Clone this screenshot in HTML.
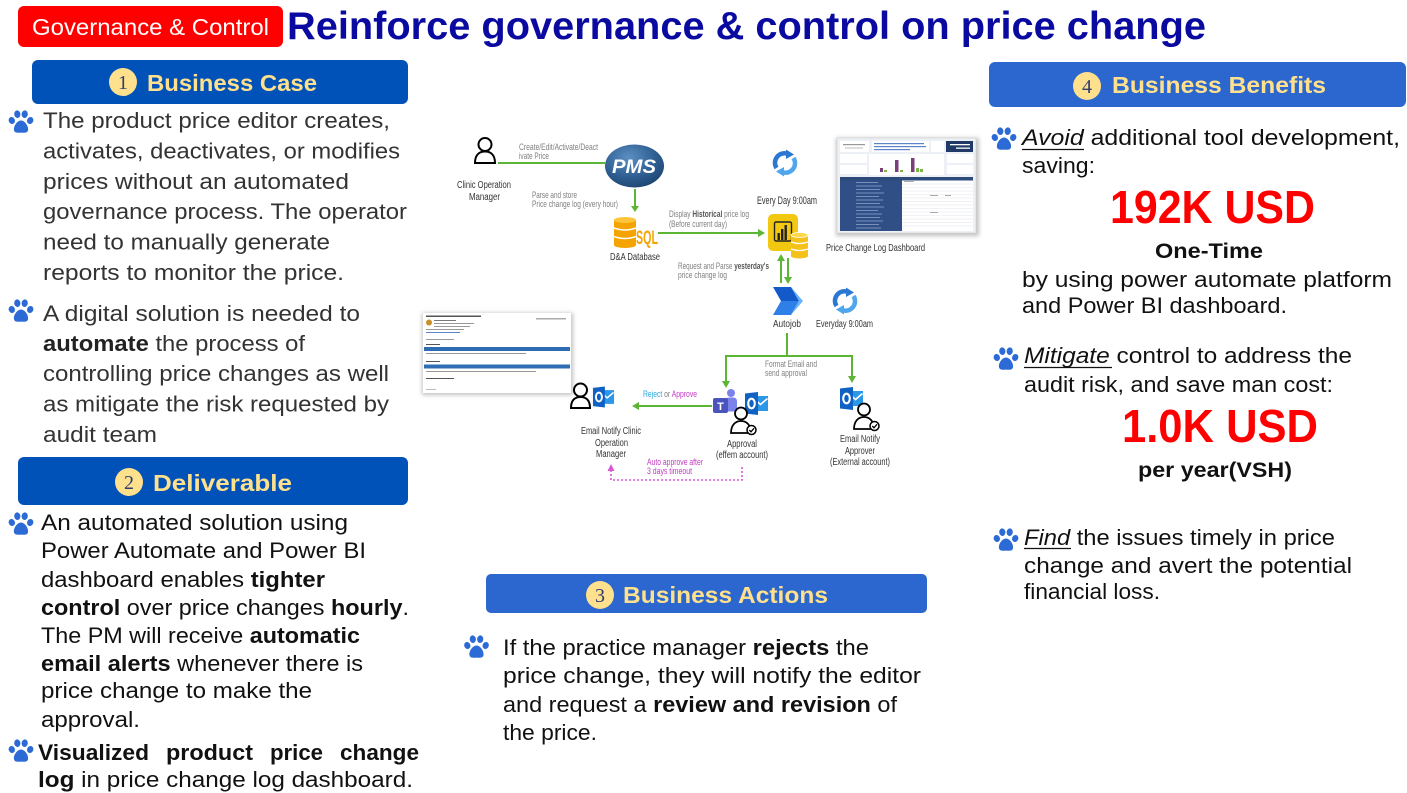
<!DOCTYPE html>
<html><head><meta charset="utf-8"><style>
html,body{margin:0;padding:0;background:#fff;}
svg{display:block;font-family:"Liberation Sans",Arial,sans-serif;}
</style></head><body>
<svg width="1407" height="793" viewBox="0 0 1407 793" xmlns="http://www.w3.org/2000/svg">
<defs>
<symbol id="paw" viewBox="0 0 26 24">
<ellipse cx="3.8" cy="10.5" rx="3.1" ry="3.6" transform="rotate(-20 3.8 10.5)"/>
<ellipse cx="9.3" cy="4.2" rx="3.1" ry="3.8" transform="rotate(-8 9.3 4.2)"/>
<ellipse cx="16.7" cy="4.2" rx="3.1" ry="3.8" transform="rotate(8 16.7 4.2)"/>
<ellipse cx="22.2" cy="10.5" rx="3.1" ry="3.6" transform="rotate(20 22.2 10.5)"/>
<path d="M13 10.5 C9 10.5 5.2 16.5 6 20.3 C6.8 23.6 10.2 22.6 13 22.6 C15.8 22.6 19.2 23.6 20 20.3 C20.8 16.5 17 10.5 13 10.5Z"/>
</symbol>
<symbol id="ol" viewBox="0 0 23 24">
<rect x="9" y="4.5" width="14" height="15" fill="#2B97E6"/>
<path d="M10 8 L15.5 13 L22.5 7" stroke="#fff" stroke-width="1.6" fill="none"/>
<path d="M0 2 L13 0.5 L13 23.5 L0 22 Z" fill="#0F62C4"/>
<ellipse cx="6.5" cy="12" rx="3.3" ry="4.8" fill="none" stroke="#fff" stroke-width="2.1"/>
</symbol>
<symbol id="refresh" viewBox="-13 -13 26 26">
<path d="M-8.5 5 A9.5 9.5 0 0 1 3 -9" fill="none" stroke="#2B78D4" stroke-width="4.5"/>
<polygon points="1,-13.5 9,-8.5 1,-4" fill="#2B78D4"/>
<path d="M8.5 -5 A9.5 9.5 0 0 1 -3 9" fill="none" stroke="#4FA6EC" stroke-width="4.5"/>
<polygon points="-1,13.5 -9,8.5 -1,4" fill="#4FA6EC"/>
</symbol>
<radialGradient id="pmsg" cx="40%" cy="30%" r="75%">
<stop offset="0" stop-color="#5B8FC2"/><stop offset="0.6" stop-color="#2F5F93"/><stop offset="1" stop-color="#1D4470"/>
</radialGradient>
<filter id="sh" x="-10%" y="-10%" width="120%" height="130%"><feGaussianBlur stdDeviation="2"/></filter>
</defs>

<!-- HEADER -->
<rect x="18" y="6" width="265" height="41" rx="6" fill="#FF0000"/>
<text x="32" y="35" font-size="23" fill="#fff" textLength="237" lengthAdjust="spacingAndGlyphs">Governance &amp; Control</text>
<text x="287" y="39" font-size="39" font-weight="bold" fill="#0A0AA0" textLength="919" lengthAdjust="spacingAndGlyphs">Reinforce governance &amp; control on price change</text>

<!-- SECTION 1 -->
<rect x="32" y="60" width="376" height="44" rx="6" fill="#0052B9"/>
<circle cx="123" cy="82" r="14" fill="#FFE08C"/>
<text x="123" y="89" font-size="20" font-family="Liberation Serif, serif" fill="#2C3E70" text-anchor="middle">1</text>
<text x="147" y="91" font-size="23.5" font-weight="bold" fill="#FFE08C" textLength="170" lengthAdjust="spacingAndGlyphs">Business Case</text>

<g fill="#2C6BD6">
<use href="#paw" x="8" y="110" width="26" height="24"/>
<use href="#paw" x="8" y="299" width="26" height="24"/>
<use href="#paw" x="8" y="512" width="26" height="24"/>
<use href="#paw" x="8" y="739" width="26" height="24"/>
<use href="#paw" x="991" y="127" width="26" height="24"/>
<use href="#paw" x="993" y="347" width="26" height="24"/>
<use href="#paw" x="993" y="528" width="26" height="24"/>
<use href="#paw" x="463" y="635" width="27" height="24"/>
</g>

<g font-size="22.5" fill="#333" lengthAdjust="spacingAndGlyphs">
<text x="43" y="128" textLength="347" lengthAdjust="spacingAndGlyphs">The product price editor creates,</text>
<text x="43" y="158.5" textLength="357" lengthAdjust="spacingAndGlyphs">activates, deactivates, or modifies</text>
<text x="43" y="189" textLength="306" lengthAdjust="spacingAndGlyphs">prices without an automated</text>
<text x="43" y="219" textLength="364" lengthAdjust="spacingAndGlyphs">governance process. The operator</text>
<text x="43" y="249.5" textLength="287" lengthAdjust="spacingAndGlyphs">need to manually generate</text>
<text x="43" y="280" textLength="301" lengthAdjust="spacingAndGlyphs">reports to monitor the price.</text>
<text x="43" y="321" textLength="317" lengthAdjust="spacingAndGlyphs">A digital solution is needed to</text>
<text x="43" y="351" textLength="262" lengthAdjust="spacingAndGlyphs"><tspan font-weight="bold" fill="#222">automate</tspan> the process of</text>
<text x="43" y="381" textLength="346" lengthAdjust="spacingAndGlyphs">controlling price changes as well</text>
<text x="43" y="411.5" textLength="346" lengthAdjust="spacingAndGlyphs">as mitigate the risk requested by</text>
<text x="43" y="442" textLength="114" lengthAdjust="spacingAndGlyphs">audit team</text>
</g>

<!-- SECTION 2 -->
<rect x="18" y="457" width="390" height="48" rx="6" fill="#0052B9"/>
<circle cx="129" cy="482" r="14" fill="#FFE08C"/>
<text x="129" y="489" font-size="20" font-family="Liberation Serif, serif" fill="#2C3E70" text-anchor="middle">2</text>
<text x="153" y="491" font-size="23.5" font-weight="bold" fill="#FFE08C" textLength="139" lengthAdjust="spacingAndGlyphs">Deliverable</text>

<g font-size="22" fill="#111">
<text x="41" y="530" textLength="307" lengthAdjust="spacingAndGlyphs">An automated solution using</text>
<text x="41" y="558" textLength="325" lengthAdjust="spacingAndGlyphs">Power Automate and Power BI</text>
<text x="41" y="587" textLength="284" lengthAdjust="spacingAndGlyphs">dashboard enables <tspan font-weight="bold">tighter</tspan></text>
<text x="41" y="615" textLength="368" lengthAdjust="spacingAndGlyphs"><tspan font-weight="bold">control</tspan> over price changes <tspan font-weight="bold">hourly</tspan>.</text>
<text x="41" y="643" textLength="319" lengthAdjust="spacingAndGlyphs">The PM will receive <tspan font-weight="bold">automatic</tspan></text>
<text x="41" y="671" textLength="322" lengthAdjust="spacingAndGlyphs"><tspan font-weight="bold">email alerts</tspan> whenever there is</text>
<text x="41" y="698" textLength="271" lengthAdjust="spacingAndGlyphs">price change to make the</text>
<text x="41" y="727" textLength="99" lengthAdjust="spacingAndGlyphs">approval.</text>
<g font-weight="bold">
<text x="38" y="760" textLength="111" lengthAdjust="spacingAndGlyphs">Visualized</text>
<text x="166" y="760" textLength="87" lengthAdjust="spacingAndGlyphs">product</text>
<text x="270" y="760" textLength="53" lengthAdjust="spacingAndGlyphs">price</text>
<text x="340" y="760" textLength="79" lengthAdjust="spacingAndGlyphs">change</text>
</g>
<text x="38" y="787" textLength="375" lengthAdjust="spacingAndGlyphs"><tspan font-weight="bold">log</tspan> in  price change log dashboard.</text>
</g>

<!-- SECTION 3 -->
<rect x="486" y="574" width="441" height="39" rx="5" fill="#2B67CF"/>
<circle cx="600" cy="595" r="14" fill="#FFE08C"/>
<text x="600" y="602" font-size="20" font-family="Liberation Serif, serif" fill="#2C3E70" text-anchor="middle">3</text>
<text x="623" y="603" font-size="23.5" font-weight="bold" fill="#FFE08C" textLength="205" lengthAdjust="spacingAndGlyphs">Business Actions</text>
<g font-size="22" fill="#111">
<text x="503" y="655" textLength="366" lengthAdjust="spacingAndGlyphs">If the practice manager <tspan font-weight="bold">rejects</tspan> the</text>
<text x="503" y="683" textLength="418" lengthAdjust="spacingAndGlyphs">price change, they will notify the editor</text>
<text x="503" y="712" textLength="394" lengthAdjust="spacingAndGlyphs">and request a <tspan font-weight="bold">review and revision</tspan> of</text>
<text x="503" y="740" textLength="94" lengthAdjust="spacingAndGlyphs">the price.</text>
</g>

<!-- SECTION 4 -->
<rect x="989" y="62" width="417" height="45" rx="6" fill="#2B67CF"/>
<circle cx="1087" cy="86" r="14" fill="#FFE08C"/>
<text x="1087" y="93" font-size="20" font-family="Liberation Serif, serif" fill="#2C3E70" text-anchor="middle">4</text>
<text x="1112" y="93" font-size="23.5" font-weight="bold" fill="#FFE08C" textLength="214" lengthAdjust="spacingAndGlyphs">Business Benefits</text>

<g font-size="22" fill="#111">
<text x="1022" y="145" textLength="378" lengthAdjust="spacingAndGlyphs"><tspan font-style="italic">Avoid</tspan> additional tool development,</text>
<text x="1022" y="173" textLength="73" lengthAdjust="spacingAndGlyphs">saving:</text>
<text x="1110" y="223" font-size="46" font-weight="bold" fill="#FF0000" textLength="205" lengthAdjust="spacingAndGlyphs">192K USD</text>
<text x="1155" y="258" font-size="21" font-weight="bold" textLength="108" lengthAdjust="spacingAndGlyphs">One-Time</text>
<text x="1022" y="287" textLength="370" lengthAdjust="spacingAndGlyphs">by using power automate platform</text>
<text x="1022" y="313" textLength="265" lengthAdjust="spacingAndGlyphs">and Power BI dashboard.</text>
<text x="1024" y="363" textLength="328" lengthAdjust="spacingAndGlyphs"><tspan font-style="italic">Mitigate</tspan> control to address the</text>
<text x="1024" y="392" textLength="309" lengthAdjust="spacingAndGlyphs">audit risk, and save man cost:</text>
<text x="1122" y="442" font-size="46" font-weight="bold" fill="#FF0000" textLength="196" lengthAdjust="spacingAndGlyphs">1.0K USD</text>
<text x="1138" y="477" font-size="21" font-weight="bold" textLength="154" lengthAdjust="spacingAndGlyphs">per year(VSH)</text>
<text x="1024" y="545" textLength="311" lengthAdjust="spacingAndGlyphs"><tspan font-style="italic">Find</tspan> the issues timely in price</text>
<text x="1024" y="573" textLength="328" lengthAdjust="spacingAndGlyphs">change and avert the potential</text>
<text x="1024" y="599" textLength="136" lengthAdjust="spacingAndGlyphs">financial loss.</text>
</g>
<g stroke="#111" stroke-width="1.3">
<line x1="1022" y1="149.5" x2="1084" y2="149.5"/>
<line x1="1024" y1="367.5" x2="1112" y2="367.5"/>
<line x1="1024" y1="548.5" x2="1071" y2="548.5"/>
</g>

<!-- DIAGRAM -->
<!-- connectors -->
<g stroke="#5DB535" stroke-width="2" fill="none">
<line x1="498" y1="163" x2="605" y2="163"/>
<line x1="635" y1="189" x2="635" y2="206"/>
<line x1="658" y1="233" x2="758" y2="233"/>
<line x1="781" y1="283" x2="781" y2="261"/>
<line x1="788" y1="258" x2="788" y2="277"/>
<polyline points="787,333 787,356"/>
<polyline points="726,381 726,356 852,356 852,376"/>
<line x1="712" y1="406" x2="639" y2="406"/>
</g>
<g fill="#5DB535">
<polygon points="631,206 639,206 635,212"/>
<polygon points="758,229 758,237 765,233"/>
<polygon points="777,261 785,261 781,254"/>
<polygon points="784,277 792,277 788,284"/>
<polygon points="722,381 730,381 726,388"/>
<polygon points="848,376 856,376 852,383"/>
<polygon points="639,402 639,410 632,406"/>
</g>
<path d="M742 467 L742 480 L611 480 L611 470" fill="none" stroke="#D957D9" stroke-width="1.6" stroke-dasharray="2 2"/>
<polygon points="607.5,471 614.5,471 611,464" fill="#D957D9"/>

<!-- person clinic -->
<circle cx="485" cy="144.5" r="6.5" fill="#fff" stroke="#000" stroke-width="2"/>
<path d="M475 163 C475 155 479 151.5 485 151.5 C491 151.5 495 155 495 163 Z" fill="#fff" stroke="#000" stroke-width="2"/>

<!-- PMS -->
<ellipse cx="634.5" cy="166" rx="29.5" ry="21.5" fill="url(#pmsg)"/>
<text x="634" y="173" font-size="19" font-weight="bold" font-style="italic" fill="#fff" text-anchor="middle" textLength="44" lengthAdjust="spacingAndGlyphs">PMS</text>

<!-- SQL -->
<rect x="614" y="220" width="22" height="25" fill="#F5A300"/>
<ellipse cx="625" cy="245" rx="11" ry="3" fill="#F5A300"/>
<ellipse cx="625" cy="220" rx="11" ry="3" fill="#FFC53A"/>
<path d="M614 228 Q625 232 636 228 M614 236.5 Q625 240.5 636 236.5" stroke="#fff" stroke-width="1.5" fill="none"/>
<text x="636" y="244" font-size="19" font-weight="bold" fill="#F5A300" textLength="22" lengthAdjust="spacingAndGlyphs">SQL</text>

<!-- Power BI -->
<rect x="768" y="214" width="30" height="37" rx="5" fill="#F2C811"/>
<rect x="774.5" y="222" width="17" height="19" rx="1.5" fill="none" stroke="#222" stroke-width="1.4"/>
<rect x="777.5" y="233" width="2.4" height="7" fill="#222"/>
<rect x="781" y="229" width="2.4" height="11" fill="#222"/>
<rect x="784.5" y="225" width="2.4" height="15" fill="#222"/>
<rect x="791" y="235" width="17" height="21" fill="#F5C21B"/>
<ellipse cx="799.5" cy="256" rx="8.5" ry="2.5" fill="#F5C21B"/>
<ellipse cx="799.5" cy="235" rx="8.5" ry="2.5" fill="#FFD84A" stroke="#fff" stroke-width="0.8"/>
<path d="M791 242 Q799.5 245 808 242 M791 249 Q799.5 252 808 249" stroke="#fff" stroke-width="1.2" fill="none"/>

<!-- refresh -->
<use href="#refresh" x="772" y="149" width="26" height="28"/>
<use href="#refresh" x="832" y="287" width="26" height="28"/>

<!-- Autojob -->
<polygon points="773,287 791,287 799,301 781,301" fill="#1459C9"/>
<polygon points="781,301 799,301 791,315 773,315" fill="#2F7FE8"/>
<polygon points="791,287 803,301 791,315 799,301" fill="#69B3FF"/>

<!-- Dashboard screenshot -->
<rect x="836" y="138" width="143" height="98" fill="#999" filter="url(#sh)" opacity="0.6"/>
<rect x="837" y="138" width="139" height="95" fill="#EDF0F4" stroke="#ccc" stroke-width="0.5"/>
<rect x="840" y="141" width="29" height="11" fill="#fff"/>
<rect x="843" y="144" width="22" height="1.2" fill="#999"/><rect x="845" y="147.5" width="18" height="1" fill="#bbb"/>
<rect x="872" y="141" width="57" height="11" fill="#fff"/>
<rect x="874" y="143" width="50" height="1.2" fill="#5A86C9"/><rect x="874" y="146" width="52" height="1.2" fill="#5A86C9"/><rect x="874" y="149" width="36" height="1.2" fill="#5A86C9"/>
<rect x="931" y="141" width="13" height="11" fill="#fff"/>
<rect x="946" y="141" width="27" height="11" fill="#1F3A66"/>
<rect x="950" y="144" width="20" height="1.3" fill="#fff"/><rect x="956" y="147.5" width="14" height="1.3" fill="#fff"/>
<rect x="840" y="154" width="27" height="9" fill="#fff"/><rect x="840" y="165" width="27" height="9" fill="#fff"/>
<rect x="869" y="154" width="75" height="21" fill="#fff"/>
<rect x="880" y="168" width="3" height="4" fill="#7B3F7A"/><rect x="884" y="170" width="3" height="2" fill="#7AB648"/>
<rect x="895" y="160" width="3.5" height="12" fill="#7B3F7A"/><rect x="900" y="170" width="3" height="2" fill="#7AB648"/>
<rect x="911" y="158" width="3.5" height="14" fill="#7B3F7A"/><rect x="916" y="168" width="3" height="4" fill="#7AB648"/><rect x="920" y="169" width="3" height="3" fill="#7AB648"/>
<rect x="947" y="154" width="26" height="9" fill="#fff"/><rect x="947" y="165" width="26" height="9" fill="#fff"/>
<rect x="840" y="177" width="133" height="54" fill="#fff"/>
<rect x="840" y="177" width="133" height="3.5" fill="#2C4A7A"/>
<rect x="840" y="180.5" width="62" height="50.5" fill="#2F4F86"/>
<g stroke="#E3E6EA" stroke-width="0.6">
<line x1="902" y1="184" x2="973" y2="184"/><line x1="902" y1="187.5" x2="973" y2="187.5"/><line x1="902" y1="191" x2="973" y2="191"/><line x1="902" y1="194.5" x2="973" y2="194.5"/><line x1="902" y1="198" x2="973" y2="198"/><line x1="902" y1="201.5" x2="973" y2="201.5"/><line x1="902" y1="205" x2="973" y2="205"/><line x1="902" y1="208.5" x2="973" y2="208.5"/><line x1="902" y1="212" x2="973" y2="212"/><line x1="902" y1="215.5" x2="973" y2="215.5"/><line x1="902" y1="219" x2="973" y2="219"/><line x1="902" y1="222.5" x2="973" y2="222.5"/><line x1="902" y1="226" x2="973" y2="226"/>
</g>
<g stroke="#8FA6CC" stroke-width="0.7">
<line x1="856" y1="182.5" x2="878" y2="182.5"/><line x1="856" y1="186" x2="882" y2="186"/><line x1="856" y1="189.5" x2="880" y2="189.5"/><line x1="856" y1="193" x2="884" y2="193"/><line x1="856" y1="196.5" x2="879" y2="196.5"/><line x1="856" y1="200" x2="883" y2="200"/><line x1="856" y1="203.5" x2="880" y2="203.5"/><line x1="856" y1="207" x2="884" y2="207"/><line x1="856" y1="210.5" x2="878" y2="210.5"/><line x1="856" y1="214" x2="882" y2="214"/><line x1="856" y1="217.5" x2="880" y2="217.5"/><line x1="856" y1="221" x2="883" y2="221"/><line x1="856" y1="224.5" x2="879" y2="224.5"/><line x1="856" y1="228" x2="881" y2="228"/>
</g>
<rect x="904" y="181" width="10" height="1" fill="#aaa"/><rect x="930" y="195" width="8" height="1" fill="#aaa"/><rect x="945" y="195" width="6" height="1" fill="#aaa"/><rect x="930" y="212" width="8" height="1" fill="#aaa"/>

<!-- Email screenshot -->
<rect x="422" y="313" width="151" height="82" fill="#999" filter="url(#sh)" opacity="0.6"/>
<rect x="423" y="313" width="148" height="80" fill="#fff"/>
<rect x="426" y="315.5" width="55" height="1.5" fill="#555"/>
<circle cx="429" cy="322.5" r="3" fill="#C8902A"/>
<rect x="434" y="320" width="22" height="1" fill="#777"/>
<rect x="434" y="323" width="40" height="1" fill="#999"/>
<rect x="434" y="326" width="36" height="1" fill="#999"/>
<rect x="426" y="329" width="38" height="1" fill="#999"/>
<rect x="426" y="332" width="34" height="1" fill="#5A86C9"/>
<rect x="536" y="318" width="30" height="1.5" fill="#aaa"/>
<rect x="426" y="339" width="28" height="1" fill="#999"/>
<rect x="426" y="344" width="14" height="1" fill="#555"/>
<rect x="424" y="347" width="146" height="4" fill="#2E6DB4"/>
<rect x="426" y="353" width="100" height="1" fill="#999"/>
<rect x="426" y="361" width="14" height="1" fill="#555"/>
<rect x="424" y="364.5" width="146" height="4" fill="#2E6DB4"/>
<rect x="426" y="371" width="110" height="1" fill="#999"/>
<rect x="426" y="378" width="28" height="1" fill="#555"/>
<rect x="426" y="389" width="10" height="1" fill="#bbb"/>

<!-- bottom-left person + outlook -->
<circle cx="580.5" cy="390" r="6.5" fill="#fff" stroke="#000" stroke-width="2"/>
<path d="M571 408 C571 400 575 397 580.5 397 C586 397 590 400 590 408 Z" fill="#fff" stroke="#000" stroke-width="2"/>
<use href="#ol" x="592" y="386" width="23" height="22"/>

<!-- Teams + outlook + person (approval) -->
<circle cx="731" cy="393" r="4" fill="#7B83EB"/>
<rect x="725" y="397.5" width="12" height="14" rx="3.5" fill="#7B83EB"/>
<rect x="713" y="398" width="15" height="15" rx="2" fill="#4B53BC"/>
<text x="720.5" y="410" font-size="11" font-weight="bold" fill="#fff" text-anchor="middle">T</text>
<use href="#ol" x="745" y="390" width="23" height="27"/>
<circle cx="741" cy="413.5" r="6" fill="#fff" stroke="#000" stroke-width="1.8"/>
<path d="M731 433 C731 425.5 735 421 741 421 C747 421 751 425.5 751 433 Z" fill="#fff" stroke="#000" stroke-width="1.8"/>
<circle cx="751.5" cy="430" r="4.5" fill="#fff" stroke="#000" stroke-width="1.5"/>
<path d="M749.3 430 L751 431.8 L754 428.3" stroke="#000" stroke-width="1.3" fill="none"/>

<!-- right approver -->
<use href="#ol" x="840" y="385" width="23" height="27"/>
<circle cx="864" cy="409.5" r="6" fill="#fff" stroke="#000" stroke-width="1.8"/>
<path d="M854 429 C854 421.5 858 417 864 417 C870 417 874 421.5 874 429 Z" fill="#fff" stroke="#000" stroke-width="1.8"/>
<circle cx="874.5" cy="426" r="4.5" fill="#fff" stroke="#000" stroke-width="1.5"/>
<path d="M872.3 426 L874 427.8 L877 424.3" stroke="#000" stroke-width="1.3" fill="none"/>

<!-- diagram labels -->
<g font-size="9.5" fill="#808080">
<text x="519" y="150" textLength="79" lengthAdjust="spacingAndGlyphs">Create/Edit/Activate/Deact</text>
<text x="519" y="159" textLength="30" lengthAdjust="spacingAndGlyphs">ivate Price</text>
<text x="532" y="198" textLength="45" lengthAdjust="spacingAndGlyphs">Parse and store</text>
<text x="532" y="207" textLength="86" lengthAdjust="spacingAndGlyphs">Price change log (every hour)</text>
<text x="669" y="217" textLength="80" lengthAdjust="spacingAndGlyphs">Display <tspan font-weight="bold" fill="#555">Historical</tspan> price log</text>
<text x="669" y="227" textLength="58" lengthAdjust="spacingAndGlyphs">(Before current day)</text>
<text x="678" y="269" textLength="91" lengthAdjust="spacingAndGlyphs">Request and Parse <tspan font-weight="bold" fill="#555">yesterday's</tspan></text>
<text x="678" y="278" textLength="49" lengthAdjust="spacingAndGlyphs">price change log</text>
<text x="765" y="367" textLength="52" lengthAdjust="spacingAndGlyphs">Format Email and</text>
<text x="765" y="376" textLength="42" lengthAdjust="spacingAndGlyphs">send approval</text>
<text x="643" y="397" textLength="54" lengthAdjust="spacingAndGlyphs"><tspan fill="#2BA6E0">Reject</tspan> or <tspan fill="#C23BC2">Approve</tspan></text>
<text x="647" y="465" fill="#C23BC2" textLength="56" lengthAdjust="spacingAndGlyphs">Auto approve after</text>
<text x="647" y="474" fill="#C23BC2" textLength="45" lengthAdjust="spacingAndGlyphs">3 days timeout</text>
</g>
<g font-size="10" fill="#333">
<text x="457" y="188" textLength="54" lengthAdjust="spacingAndGlyphs">Clinic Operation</text>
<text x="469" y="200" textLength="31" lengthAdjust="spacingAndGlyphs">Manager</text>
<text x="610" y="260" textLength="50" lengthAdjust="spacingAndGlyphs">D&amp;A Database</text>
<text x="757" y="204" font-size="11" textLength="60" lengthAdjust="spacingAndGlyphs">Every Day 9:00am</text>
<text x="826" y="251" font-size="10.5" textLength="99" lengthAdjust="spacingAndGlyphs">Price Change Log Dashboard</text>
<text x="773" y="327" textLength="28" lengthAdjust="spacingAndGlyphs">Autojob</text>
<text x="816" y="327" textLength="57" lengthAdjust="spacingAndGlyphs">Everyday 9:00am</text>
<text x="581" y="434" textLength="60" lengthAdjust="spacingAndGlyphs">Email Notify Clinic</text>
<text x="595" y="446" textLength="33" lengthAdjust="spacingAndGlyphs">Operation</text>
<text x="596" y="457" textLength="30" lengthAdjust="spacingAndGlyphs">Manager</text>
<text x="727" y="447" textLength="30" lengthAdjust="spacingAndGlyphs">Approval</text>
<text x="716" y="458" textLength="52" lengthAdjust="spacingAndGlyphs">(effem account)</text>
<text x="840" y="442" textLength="40" lengthAdjust="spacingAndGlyphs">Email Notify</text>
<text x="845" y="454" textLength="30" lengthAdjust="spacingAndGlyphs">Approver</text>
<text x="830" y="465" textLength="60" lengthAdjust="spacingAndGlyphs">(External account)</text>
</g>
</svg>
</body></html>
